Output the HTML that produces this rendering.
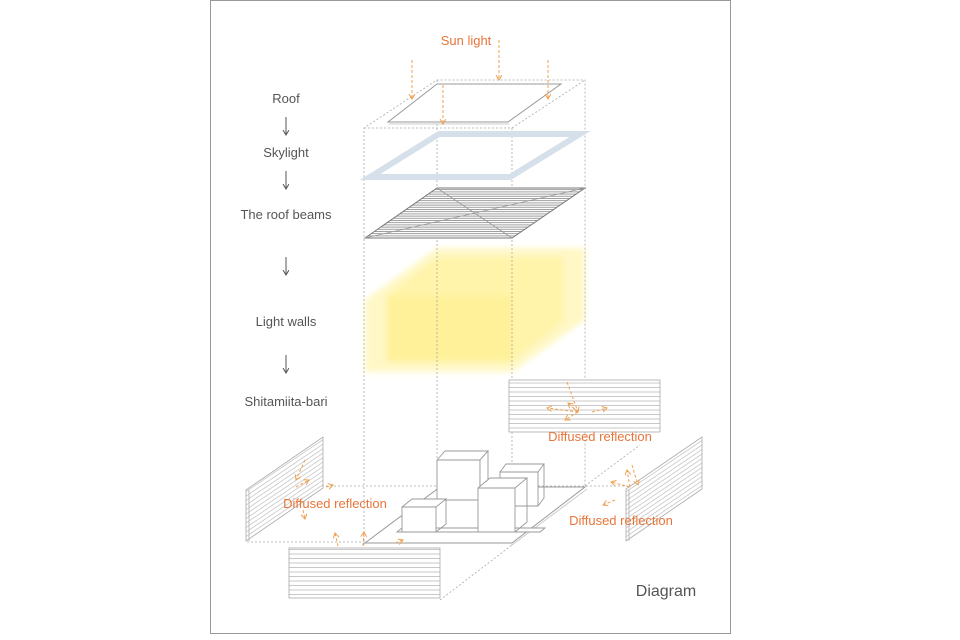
<!DOCTYPE html>
<html><head><meta charset="utf-8"><style>
html,body{margin:0;padding:0;background:#fff;}
svg{display:block;font-family:"Liberation Sans",sans-serif;}
</style></head><body>
<svg width="960" height="640" viewBox="0 0 960 640" xmlns="http://www.w3.org/2000/svg">
<defs>
<pattern id="hl" width="6" height="2.2" patternUnits="userSpaceOnUse"><rect width="6" height="2.2" fill="#fff"/><line x1="0" y1="0.5" x2="6" y2="0.5" stroke="#888" stroke-width="0.8"/></pattern>
<pattern id="wl" width="6" height="4.5" patternUnits="userSpaceOnUse"><rect width="6" height="4.5" fill="#fff"/><line x1="0" y1="0.5" x2="6" y2="0.5" stroke="#bbb" stroke-width="0.8"/></pattern>
<pattern id="wls" width="6" height="4.5" patternUnits="userSpaceOnUse" patternTransform="skewY(-34)"><rect width="6" height="4.5" fill="#fff"/><line x1="0" y1="0.5" x2="6" y2="0.5" stroke="#bbb" stroke-width="0.8"/></pattern>
<filter id="bl"><feGaussianBlur stdDeviation="3"/></filter>
<marker id="ar" markerWidth="7" markerHeight="7" refX="5" refY="3" orient="auto" markerUnits="userSpaceOnUse"><path d="M0,0 L5,3 L0,6" fill="none" stroke="#555" stroke-width="1"/></marker>
<marker id="oa" markerWidth="7" markerHeight="7" refX="5" refY="3" orient="auto" markerUnits="userSpaceOnUse"><path d="M0,0 L5,3 L0,6" fill="none" stroke="#f0a050" stroke-width="1"/></marker>
</defs>
<rect x="210.5" y="0.5" width="520" height="633" fill="#fff" stroke="#999"/>

<!-- yellow box -->
<g filter="url(#bl)" opacity="0.9">
<polygon points="365,300 437,248 585,248 585,320 512,372 365,372" fill="#fff7c0"/>
<polygon points="387,296 437,257 563,257 563,322 512,362 387,362" fill="#fff3a0"/>
<polygon points="387,296 512,296 512,362 387,362" fill="#fff090"/>
</g>

<!-- dashed frame -->
<g stroke="#aaa" stroke-width="0.8" stroke-dasharray="2,2" fill="none">
<polyline points="364,545 364,128 437,80 585,80 585,485"/>
<line x1="437" y1="80" x2="437" y2="486"/>
<line x1="512" y1="128" x2="512" y2="545"/>
<line x1="364" y1="128" x2="512" y2="128"/>
<line x1="512" y1="128" x2="585" y2="80"/>
<line x1="247" y1="542" x2="512" y2="542"/>
<line x1="318" y1="486" x2="630" y2="486"/>
<line x1="440" y1="600" x2="512" y2="545"/>
<line x1="585" y1="486" x2="640" y2="445"/>
</g>

<!-- roof plate -->
<polygon points="388,122 437,84 561,84 508,122" fill="#fff" stroke="#999" stroke-width="1"/>
<line x1="389" y1="124" x2="509" y2="124" stroke="#ccc"/>
<!-- skylight -->
<polygon points="370,177 439,134 580,134 510,177" fill="none" stroke="#d6e0ea" stroke-width="6"/>
<!-- roof beams -->
<polygon points="365,238 437,188 585,188 512,238" fill="url(#hl)" stroke="#777"/>
<line x1="365" y1="238" x2="585" y2="188" stroke="#999" stroke-width="0.8"/>
<line x1="437" y1="188" x2="512" y2="238" stroke="#999" stroke-width="0.8"/>

<!-- sun arrows -->
<g stroke="#f0a050" stroke-width="1" stroke-dasharray="3,2" fill="none" marker-end="url(#oa)">
<line x1="412" y1="60" x2="412" y2="99"/>
<line x1="499" y1="40" x2="499" y2="80"/>
<line x1="548" y1="60" x2="548" y2="99"/>
<line x1="443" y1="85" x2="443" y2="124"/>
</g>
<text x="466" y="45" font-size="13" fill="#e8753a" text-anchor="middle">Sun light</text>

<!-- left labels -->
<g font-size="13" fill="#555" text-anchor="middle">
<text x="286" y="103">Roof</text>
<text x="286" y="157">Skylight</text>
<text x="286" y="219">The roof beams</text>
<text x="286" y="326">Light walls</text>
<text x="286" y="406">Shitamiita-bari</text>
</g>
<g stroke="#555" stroke-width="1" marker-end="url(#ar)">
<line x1="286" y1="117" x2="286" y2="135"/>
<line x1="286" y1="171" x2="286" y2="189"/>
<line x1="286" y1="257" x2="286" y2="275"/>
<line x1="286" y1="355" x2="286" y2="373"/>
</g>

<!-- site plate -->
<polygon points="365,543 440,487 585,487 512,543" fill="#fff" stroke="#999"/>
<line x1="512" y1="545" x2="587" y2="489" stroke="#ccc"/>
<!-- buildings -->
<g fill="#fff" stroke="#999" stroke-width="0.9">
<polygon points="397,532 402,528 545,528 540,532"/>
<polygon points="437,500 437,460 445,451 488,451 480,460 480,500"/>
<line x1="437" y1="460" x2="480" y2="460"/><line x1="480" y1="460" x2="488" y2="451"/>
<polygon points="488,451 488,492 480,500 480,460"/>
<polygon points="500,506 500,472 506,464 544,464 538,472 538,506"/>
<line x1="500" y1="472" x2="538" y2="472"/><polyline points="538,506 544,498 544,464" fill="none"/>
<polygon points="478,532 478,488 490,478 527,478 515,488 515,532"/>
<line x1="478" y1="488" x2="515" y2="488"/><polyline points="515,532 527,522 527,478" fill="none"/>
<polygon points="402,532 402,507 412,499 446,499 436,507 436,532"/>
<line x1="402" y1="507" x2="436" y2="507"/><polyline points="436,532 446,524 446,499" fill="none"/>
</g>

<!-- walls -->
<rect x="509" y="380" width="151" height="52" fill="url(#wl)" stroke="#aaa" stroke-width="0.8"/>
<rect x="289" y="548" width="151" height="50" fill="url(#wl)" stroke="#aaa" stroke-width="0.8"/>
<polygon points="246,490 323,437 323,488 246,541" fill="url(#wls)" stroke="#aaa" stroke-width="0.8"/>
<line x1="249" y1="490" x2="249" y2="541" stroke="#bbb"/>
<polygon points="626,489 702,437 702,489 626,541" fill="url(#wls)" stroke="#aaa" stroke-width="0.8"/>
<line x1="629" y1="489" x2="629" y2="541" stroke="#bbb"/>

<!-- reflection arrows -->
<g stroke="#f0a050" stroke-width="1" stroke-dasharray="3,2" fill="none" marker-end="url(#oa)">
<line x1="567" y1="382" x2="578" y2="412"/>
<line x1="578" y1="412" x2="547" y2="408"/>
<line x1="578" y1="412" x2="568" y2="403"/>
<line x1="578" y1="412" x2="565" y2="420"/>
<line x1="592" y1="412" x2="607" y2="408"/>
<line x1="305" y1="460" x2="296" y2="480"/>
<line x1="296" y1="487" x2="309" y2="480"/>
<line x1="303" y1="510" x2="305" y2="519"/>
<line x1="326" y1="487" x2="333" y2="485"/>
<line x1="338" y1="546" x2="335" y2="533"/>
<line x1="363" y1="546" x2="364" y2="532"/>
<line x1="395" y1="543" x2="403" y2="540"/>
<line x1="632" y1="465" x2="638" y2="485"/>
<line x1="630" y1="487" x2="627" y2="470"/>
<line x1="630" y1="487" x2="611" y2="482"/>
<line x1="615" y1="500" x2="603" y2="505"/>
</g>
<g font-size="13" fill="#e8753a" text-anchor="middle">
<text x="600" y="441">Diffused reflection</text>
<text x="335" y="508">Diffused reflection</text>
<text x="621" y="525">Diffused reflection</text>
</g>
<text x="666" y="596" font-size="16" fill="#555" text-anchor="middle">Diagram</text>
</svg>
</body></html>
